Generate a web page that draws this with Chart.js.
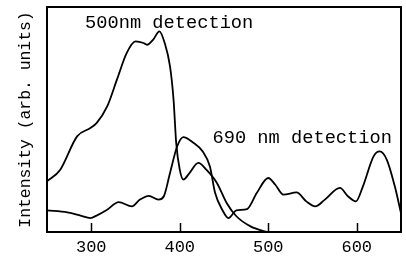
<!DOCTYPE html>
<html>
<head>
<meta charset="utf-8">
<script src="https://cdn.jsdelivr.net/npm/chart.js@4/dist/chart.umd.min.js"></script>
<style>
  html, body { margin: 0; padding: 0; background: #fff; }
  #wrap { width: 406px; height: 263px; }
</style>
</head>
<body>
<div id="wrap"><canvas id="grafico" width="406" height="263"></canvas></div>
<script>
// ====================
// Datos
// ====================
const xTicks = [300, 400, 500, 600];

const wl500 = [250, 265, 284, 299, 306, 318, 329, 340, 350, 359, 363, 370, 377, 383, 389, 393, 396, 400, 404, 411, 421, 430, 442, 453, 464, 480, 496, 500];
const int500 = [22.5, 27.7, 42.5, 46.2, 48.4, 55.8, 67.7, 79.5, 84.7, 84, 83.2, 85.5, 89.2, 84, 73.6, 58.8, 39.5, 27.7, 23.3, 26.2, 30.7, 27.7, 21.8, 12.9, 7, 2.5, 0.3, 0];

const wl690 = [250, 273, 288, 299, 306, 318, 331, 346, 355, 365, 376, 382, 389, 397, 404, 415, 426, 434, 440, 448, 455, 464, 476, 487, 500, 508, 517, 532, 543, 553, 564, 581, 590, 599, 607, 619, 626, 634, 643, 650];
const int690 = [9.6, 8.7, 7.3, 6.2, 7.3, 9.9, 13.3, 11.4, 14.4, 16.1, 14.4, 15.9, 26.2, 38, 42.2, 39.8, 35.8, 29.2, 17.3, 9.9, 6.2, 9.6, 10.2, 17.3, 24, 21, 16.6, 17.6, 13.6, 11.4, 14.4, 19.6, 15.9, 13.6, 20.3, 33.6, 35.8, 32.1, 20.3, 8.4];

const curveLabels = ["500nm detection", "690 nm detection"];
const labelX = [293, 437];
const labelY = [92.9, 41.8];

const toPoints = (xs, ys) => xs.map((x, i) => ({ x: x, y: ys[i] }));

const fuente = "'Liberation Mono', 'DejaVu Sans Mono', monospace";

// ====================
// Marco, marcas internas y rótulos de curvas
// ====================
const marco = {
    id: "marco",
    afterDraw(chart) {
        const { ctx, chartArea: a, scales } = chart;
        ctx.save();
        ctx.strokeStyle = "#000";
        ctx.lineWidth = 2;
        ctx.strokeRect(a.left, a.top, a.right - a.left, a.bottom - a.top);
        ctx.lineWidth = 1.5;
        xTicks.forEach(v => {
            const px = Math.round(scales.x.getPixelForValue(v)) + 0.5;
            ctx.beginPath();
            ctx.moveTo(px, a.bottom);
            ctx.lineTo(px, a.bottom - 9);
            ctx.stroke();
        });
        ctx.fillStyle = "#000";
        ctx.font = "18.7px " + fuente;
        ctx.textBaseline = "middle";
        ctx.textAlign = "left";
        curveLabels.forEach((t, i) => {
            ctx.fillText(t, scales.x.getPixelForValue(labelX[i]), scales.y.getPixelForValue(labelY[i]));
        });
        ctx.restore();
    }
};

const ctxGrafico = document.getElementById("grafico");
new Chart(ctxGrafico, {
    type: "line",
    data: {
        datasets: [
            {
                label: curveLabels[0],
                data: toPoints(wl500, int500),
                borderColor: "#000",
                borderWidth: 1.8,
                pointRadius: 0,
                fill: false,
                tension: 0.4,
                cubicInterpolationMode: "monotone"
            },
            {
                label: curveLabels[1],
                data: toPoints(wl690, int690),
                borderColor: "#000",
                borderWidth: 1.8,
                pointRadius: 0,
                fill: false,
                tension: 0.4,
                cubicInterpolationMode: "monotone"
            }
        ]
    },
    options: {
        responsive: false,
        animation: false,
        layout: { padding: { left: 0, right: 5, top: 7, bottom: 0 } },
        plugins: {
            legend: { display: false },
            tooltip: { enabled: false }
        },
        scales: {
            x: {
                type: "linear",
                min: 250,
                max: 650,
                grid: { display: false, drawTicks: false },
                border: { display: false },
                afterBuildTicks: (s) => { s.ticks = xTicks.map(v => ({ value: v })); },
                afterFit: (s) => { s.height = 31; },
                ticks: {
                    color: "#000",
                    padding: 5,
                    maxRotation: 0,
                    font: { family: fuente, size: 17 }
                }
            },
            y: {
                min: 0,
                max: 100,
                grid: { display: false, drawTicks: false },
                border: { display: false },
                ticks: { display: false },
                afterFit: (s) => { s.width = 47; },
                title: {
                    display: true,
                    text: "Intensity (arb. units)",
                    color: "#000",
                    padding: { top: 16, bottom: 0 },
                    font: { family: fuente, size: 16.4 }
                }
            }
        }
    },
    plugins: [marco]
});
</script>
</body>
</html>
